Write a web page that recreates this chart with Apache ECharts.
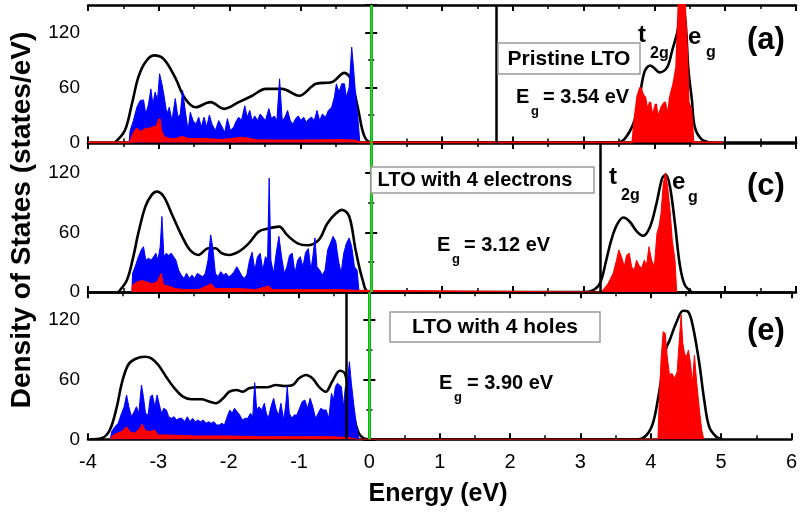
<!DOCTYPE html>
<html><head><meta charset="utf-8">
<script src="https://cdn.jsdelivr.net/npm/echarts@6/dist/echarts.min.js"></script>
<style>html,body{margin:0;padding:0;background:#fff}#c{width:800px;height:513px}</style>
</head><body><div id="c"></div>
<script>
// ---------- data (energy eV, states/eV) ----------
const xTicks = [-4,-3,-2,-1,0,1,2,3,4,5,6];
const yTicks = [0,60,120];

// Panel (a) Pristine LTO
const aTotal = [[-3.62,0],[-3.48,13],[-3.38,42],[-3.29,71],[-3.19,87.6],[-3.07,95],[-2.93,91],[-2.77,71],[-2.63,48],[-2.48,38.5],[-2.27,44],[-2.08,36.7],[-1.87,44],[-1.68,51],[-1.49,58.5],[-1.26,58.5],[-1.02,51],[-0.78,64],[-0.55,66],[-0.38,76],[-0.29,69.5],[-0.19,38.5],[-0.10,7.6],[0,0],[3.45,0],[3.58,4],[3.72,24],[3.79,49],[3.86,77],[3.94,84],[4.00,81],[4.07,76.5],[4.18,82],[4.25,100],[4.32,119],[4.38,140],[4.43,138],[4.48,80],[4.53,46],[4.57,17],[4.66,4],[4.78,0]];
const aBlue = [[-3.42,0],[-3.405,13],[-3.358,24],[-3.310,38.5],[-3.263,45.8],[-3.216,46.5],[-3.183,31],[-3.145,42],[-3.112,58.5],[-3.084,42],[-3.051,55],[-3.018,46],[-2.989,75],[-2.956,64],[-2.923,49.5],[-2.886,31],[-2.852,38.5],[-2.815,24],[-2.767,48],[-2.730,27.6],[-2.697,31],[-2.664,56.7],[-2.626,35],[-2.588,13],[-2.555,33],[-2.517,24],[-2.475,20],[-2.437,27.6],[-2.399,17],[-2.361,27.6],[-2.324,17],[-2.286,30],[-2.248,20],[-2.201,13],[-2.154,24],[-2.107,17],[-2.069,11],[-2.031,26],[-1.988,13],[-1.941,17],[-1.903,24],[-1.870,27.6],[-1.833,24],[-1.785,40],[-1.752,27.6],[-1.715,35],[-1.682,24],[-1.644,29],[-1.606,24],[-1.568,31],[-1.531,27.6],[-1.493,24],[-1.446,37],[-1.408,26],[-1.370,29],[-1.332,24],[-1.294,69.5],[-1.257,24],[-1.219,27.6],[-1.181,35],[-1.143,24],[-1.106,20],[-1.068,26],[-1.030,29],[-0.992,24],[-0.954,27.6],[-0.917,22],[-0.879,26],[-0.841,27.6],[-0.803,24],[-0.766,35],[-0.728,24],[-0.690,31],[-0.643,27.6],[-0.605,35],[-0.558,38.5],[-0.520,49.5],[-0.492,64],[-0.454,55],[-0.416,64],[-0.378,64],[-0.350,49.5],[-0.312,60],[-0.275,104],[-0.246,78],[-0.218,49.5],[-0.185,24],[-0.161,0]];
const aRed = [[-4,0],[-3.405,0],[-3.36,9.5],[-3.31,15],[-3.26,11],[-3.22,13],[-3.17,15],[-3.12,15],[-3.07,17],[-3.03,17],[-2.99,26],[-2.97,13],[-2.93,6],[-2.86,4],[-2.77,3.6],[-2.67,6],[-2.58,3.6],[-2.34,3.6],[-2.11,2.5],[-1.82,5],[-1.63,2.5],[-1.40,2],[-0.92,2],[-0.45,2.5],[-0.22,2],[-0.17,0],[3.69,0],[3.72,25],[3.76,50],[3.80,60],[3.84,52],[3.87,49],[3.90,35],[3.94,44],[3.97,27.6],[4.02,42],[4.05,26],[4.10,38.5],[4.15,44],[4.19,27.6],[4.22,49],[4.27,64],[4.31,82],[4.35,165],[4.39,133],[4.42,165],[4.46,100],[4.48,44],[4.52,35],[4.55,0],[4.97,0]];

// Panel (c) LTO with 4 electrons
const cTotal = [[-3.57,0],[-3.45,12],[-3.36,35.6],[-3.29,59],[-3.19,86],[-3.10,97.8],[-3.03,101],[-2.93,96],[-2.82,79],[-2.67,55.8],[-2.56,42.3],[-2.44,37.3],[-2.30,44],[-2.20,44],[-2.11,39],[-2.01,37.3],[-1.87,40.6],[-1.73,49],[-1.59,60.8],[-1.45,64],[-1.30,65.8],[-1.19,57.5],[-1.04,49],[-0.90,47],[-0.74,52.4],[-0.62,69],[-0.50,79],[-0.41,82.7],[-0.31,76],[-0.22,42.3],[-0.12,12],[-0.03,0],[3.00,0],[3.11,1],[3.23,8.7],[3.32,32],[3.39,52],[3.47,67.5],[3.56,75],[3.65,71],[3.75,61],[3.84,56.5],[3.94,66],[4.03,89.4],[4.11,114.6],[4.16,118],[4.22,106],[4.29,69],[4.36,27],[4.43,7],[4.53,0]];
const cBlue = [[-3.38,0],[-3.37,19],[-3.334,25.5],[-3.287,35.5],[-3.249,42.3],[-3.216,45.6],[-3.183,32],[-3.145,34],[-3.107,32],[-3.074,35.6],[-3.041,39],[-3.013,32],[-2.980,45.6],[-2.956,76],[-2.928,35.6],[-2.895,39],[-2.862,37],[-2.824,39],[-2.791,35.6],[-2.758,32],[-2.720,22],[-2.683,17],[-2.645,13.7],[-2.607,18.8],[-2.569,13.7],[-2.531,17],[-2.494,13.7],[-2.456,18.8],[-2.418,17],[-2.380,15.4],[-2.343,18.8],[-2.305,32],[-2.267,57.5],[-2.239,45.6],[-2.201,18.8],[-2.163,15.4],[-2.125,20.5],[-2.088,17],[-2.050,18.8],[-2.012,15.4],[-1.974,17],[-1.937,20.5],[-1.899,25.5],[-1.870,22],[-1.833,17],[-1.795,13.7],[-1.757,17],[-1.719,32],[-1.682,40],[-1.644,22],[-1.606,35.6],[-1.568,39],[-1.531,22],[-1.493,35.6],[-1.464,32],[-1.441,114.6],[-1.417,32],[-1.379,18.8],[-1.342,39],[-1.304,56],[-1.266,35.6],[-1.228,18.8],[-1.190,25.5],[-1.153,37],[-1.115,39],[-1.077,18.8],[-1.039,32],[-1.002,35.6],[-0.964,25.5],[-0.926,40],[-0.888,43.7],[-0.851,22],[-0.822,37],[-0.794,54.4],[-0.766,25.5],[-0.728,22],[-0.690,17],[-0.652,22],[-0.615,42.3],[-0.577,49],[-0.539,56],[-0.501,51],[-0.463,32],[-0.426,18.8],[-0.388,39],[-0.350,49],[-0.312,54.4],[-0.275,45.6],[-0.237,25.5],[-0.199,22],[-0.171,0]];
const cRed = [[-3.38,0],[-3.372,7],[-3.310,10],[-3.240,11.7],[-3.169,10],[-3.098,8.4],[-3.027,10],[-2.966,18.8],[-2.933,7],[-2.862,6],[-2.767,3.4],[-2.626,2.4],[-2.437,2.4],[-2.258,8.4],[-2.201,3.4],[-1.870,3.4],[-1.634,2.4],[-1.446,6],[-1.398,2.4],[-0.926,2.4],[-0.454,2.4],[-0.194,1.7],[-0.171,0],[3.253,0],[3.347,8.7],[3.418,18.8],[3.465,32],[3.498,42.3],[3.536,35.6],[3.574,25.5],[3.607,37],[3.645,39],[3.678,25.5],[3.715,22],[3.748,32],[3.781,27],[3.819,23.8],[3.857,32],[3.890,27],[3.923,45.6],[3.961,32],[3.999,25.5],[4.036,59],[4.065,66],[4.093,79],[4.126,109.5],[4.159,120],[4.187,106],[4.221,82.6],[4.253,52],[4.291,32],[4.315,0]];

// Panel (e) LTO with 4 holes
const eTotal = [[-3.97,0],[-3.81,1],[-3.69,9.3],[-3.59,32.6],[-3.52,56],[-3.43,74.3],[-3.33,80.3],[-3.19,82.6],[-3.10,81],[-3.00,74.3],[-2.89,62.6],[-2.77,51],[-2.65,42.6],[-2.53,40],[-2.39,40],[-2.27,37.6],[-2.18,36],[-2.08,41],[-1.99,47.6],[-1.89,49.3],[-1.80,47.6],[-1.71,51],[-1.59,52],[-1.45,52],[-1.33,54.3],[-1.21,53.3],[-1.09,54.3],[-1.00,61],[-0.90,64.3],[-0.81,61],[-0.71,52],[-0.62,47.6],[-0.53,57.6],[-0.42,68.6],[-0.35,66],[-0.29,46],[-0.22,22.6],[-0.15,6],[-0.08,1],[0,0],[3.82,0],[3.94,4.3],[4.03,16],[4.10,39.3],[4.17,69.3],[4.22,91],[4.27,99.3],[4.36,116],[4.46,128.6],[4.53,127.6],[4.60,112.6],[4.69,76],[4.76,39.3],[4.83,12.6],[4.93,2.6],[5.02,0]];
const eBlue = [[-3.68,0],[-3.665,7.6],[-3.618,12.6],[-3.571,16],[-3.523,26],[-3.486,32.6],[-3.452,44.3],[-3.419,32.6],[-3.382,22.6],[-3.344,27.6],[-3.311,32.6],[-3.278,26],[-3.240,54.3],[-3.212,42.6],[-3.183,26],[-3.146,24.3],[-3.113,42.6],[-3.084,44.3],[-3.051,32.6],[-3.018,44.3],[-2.990,36],[-2.957,26],[-2.924,31],[-2.886,29.3],[-2.853,22.6],[-2.815,21],[-2.777,22.6],[-2.740,19.3],[-2.702,21],[-2.664,21],[-2.626,17.6],[-2.588,22.6],[-2.551,17.6],[-2.513,21],[-2.475,17.6],[-2.437,19.3],[-2.400,17.6],[-2.362,19.3],[-2.324,16],[-2.286,17.6],[-2.248,16],[-2.211,17.6],[-2.173,14.3],[-2.135,14.3],[-2.097,16],[-2.060,14.3],[-2.022,22.6],[-1.984,29.3],[-1.951,26],[-1.918,31],[-1.880,27.6],[-1.843,24.3],[-1.805,19.3],[-1.767,21],[-1.729,21],[-1.691,26],[-1.658,22.6],[-1.630,56.6],[-1.602,29.3],[-1.569,32.6],[-1.531,29.3],[-1.493,36],[-1.465,26],[-1.436,21],[-1.399,32.6],[-1.361,41],[-1.323,29.3],[-1.290,24.3],[-1.257,36],[-1.219,19.3],[-1.191,32.6],[-1.167,53.3],[-1.139,26],[-1.101,21],[-1.068,24.3],[-1.030,24.3],[-0.993,31],[-0.955,37.6],[-0.917,39.3],[-0.879,31],[-0.842,41],[-0.804,32.6],[-0.766,21],[-0.728,26],[-0.691,31],[-0.653,29.3],[-0.615,29.3],[-0.577,21],[-0.539,46],[-0.511,39.3],[-0.483,52.6],[-0.454,56],[-0.426,57.6],[-0.398,52.6],[-0.369,32.6],[-0.341,52.6],[-0.313,56],[-0.284,77.6],[-0.256,56],[-0.218,32.6],[-0.181,12.6],[-0.147,0]];
const eRed = [[-3.68,0],[-3.665,2.6],[-3.594,6],[-3.523,7.6],[-3.452,12.6],[-3.405,7.6],[-3.334,6],[-3.264,11],[-3.231,15.3],[-3.193,9.3],[-3.122,7.6],[-3.051,9.3],[-3.004,4.3],[-2.862,4.3],[-2.485,3.3],[-2.012,3.3],[-1.540,2.6],[-1.068,2.6],[-0.596,2.6],[-0.313,2],[-0.171,0],[4.102,0],[4.126,49],[4.149,82.6],[4.177,107.6],[4.206,106],[4.234,82.6],[4.267,64.3],[4.300,66],[4.338,61],[4.376,67.6],[4.409,102.6],[4.432,124.3],[4.456,96],[4.480,86],[4.508,82.6],[4.536,89.3],[4.565,76],[4.593,56],[4.621,84.3],[4.654,56],[4.692,29.3],[4.725,9.3],[4.753,0]];

// vertical marker lines (eV)
const fermiE = 0;
const vLineA = 1.76, vLineC = 3.23, vLineE = -0.33;

const panels = [
  {tot:aTotal, blue:aBlue, red:aRed, vline:vLineA, ymax:150, top:5, height:137.5, redW:2.2},
  {tot:cTotal, blue:cBlue, red:cRed, vline:vLineC, ymax:150, top:143, height:149, redW:1},
  {tot:eTotal, blue:eBlue, red:eRed, vline:vLineE, ymax:147, top:292.3, height:147, redW:1}
];

const FONT = '"Liberation Sans", Arial, sans-serif';
const AXW = 2.5;

const grid=[], xAxis=[], yAxis=[], series=[];
panels.forEach((p,i)=>{
  grid.push({left:88, right:4, top:p.top, height:p.height, show:false});
  const base = {type:'value', gridIndex:i, min:xTicks[0], max:xTicks[xTicks.length-1], interval:1,
    axisLine:{show:true, onZero:false, lineStyle:{color:'#000', width:AXW}},
    axisTick:{show:true, inside:true, length:6, lineStyle:{color:'#000', width:2}},
    minorTick:{show:true, splitNumber:2, length:4, lineStyle:{color:'#000', width:1.5}},
    splitLine:{show:false}};
  xAxis.push(Object.assign({}, base, {position:'bottom',
    axisLabel:{show:i===2, color:'#000', fontFamily:FONT, fontSize:20, margin:13}}));
  xAxis.push(Object.assign({}, base, {position:'top', axisLabel:{show:false}}));
  const yb = {type:'value', gridIndex:i, min:0, max:p.ymax, interval:60,
    axisLine:{show:true, lineStyle:{color:'#000', width:AXW}},
    axisTick:{show:true, inside:true, length:6, lineStyle:{color:'#000', width:2}},
    minorTick:{show:true, splitNumber:2, length:3, lineStyle:{color:'#000', width:1.5}},
    splitLine:{show:false}};
  yAxis.push(Object.assign({}, yb, {position:'left',
    axisLabel:{color:'#000', fontFamily:FONT, fontSize:19, margin:8, showMaxLabel:false,
      formatter:v=>yTicks.indexOf(v)>=0?String(v):''}}));
  yAxis.push(Object.assign({}, yb, {position:'right', axisLabel:{show:false}}));
  const xi = i*2, yi = i*2;
  series.push({type:'line', xAxisIndex:xi, yAxisIndex:yi, data:p.tot, symbol:'none', smooth:0.35,
    lineStyle:{color:'#000', width:2.6}, z:2,
    markLine:{silent:true, symbol:['none','none'], label:{show:false}, animation:false,
      data:[{xAxis:p.vline, lineStyle:{color:'#000', width:2.5, type:'solid'}},
            {xAxis:fermiE, lineStyle:{color:'#22e022', width:2.5, type:'solid'}}]}});
  series.push({type:'line', xAxisIndex:xi, yAxisIndex:yi, data:p.blue, symbol:'none',
    lineStyle:{color:'#0000ff', width:1}, areaStyle:{color:'#0000ff', opacity:1}, z:3});
  series.push({type:'line', xAxisIndex:xi, yAxisIndex:yi, data:p.red, symbol:'none',
    lineStyle:{color:'#ff0000', width:p.redW}, areaStyle:{color:'#ff0000', opacity:1}, z:4});
});

function txt(x,y,text,size,opts){
  return Object.assign({type:'text', x:x, y:y, z:10, style:Object.assign({text:text,
    font:'bold '+size+'px '+FONT, fill:'#000', textAlign:'left', textVerticalAlign:'middle'}, opts||{})});
}
function box(x,y,w,h){
  return {type:'rect', z:9, shape:{x:x,y:y,width:w,height:h}, style:{fill:'#fff', stroke:'#9a9a9a', lineWidth:1.5}};
}

const graphic = [
  // panel a
  box(498,43,142,31), txt(569,59,'Pristine LTO',21,{textAlign:'center'}),
  txt(516,97,'E',20), txt(531,111,'g',13), txt(543,97,'= 3.54 eV',20),
  txt(638,35,'t',24), txt(650,54,'2g',16), txt(688,37,'e',24), txt(706,53,'g',16),
  txt(747,40,'(a)',31),
  // panel c
  box(371,167,223,26), txt(475,180,'LTO with 4 electrons',20,{textAlign:'center'}),
  txt(437,245,'E',20), txt(452,259,'g',13), txt(464,245,'= 3.12 eV',20),
  txt(609,177,'t',24), txt(621,196,'2g',16), txt(672,182,'e',24), txt(688,198,'g',16),
  txt(747,186,'(c)',31),
  // panel e
  box(390,312,210,30), txt(495,327,'LTO with 4 holes',21,{textAlign:'center'}),
  txt(439,383,'E',20), txt(454,397,'g',13), txt(467,383,'= 3.90 eV',20),
  txt(747,331,'(e)',31),
  // axis titles
  {type:'text', x:438, y:494, z:10, style:{text:'Energy (eV)', font:'bold 25px '+FONT, fill:'#000', textAlign:'center', textVerticalAlign:'middle'}},
  {type:'text', x:22, y:220, rotation:Math.PI/2, z:10, style:{text:'Density of States (states/eV)', font:'bold 28px '+FONT, fill:'#000', textAlign:'center', textVerticalAlign:'middle'}}
];

const chart = echarts.init(document.getElementById('c'), null, {renderer:'canvas'});
chart.setOption({animation:false, backgroundColor:'#fff', grid, xAxis, yAxis, series, graphic});
</script></body></html>
